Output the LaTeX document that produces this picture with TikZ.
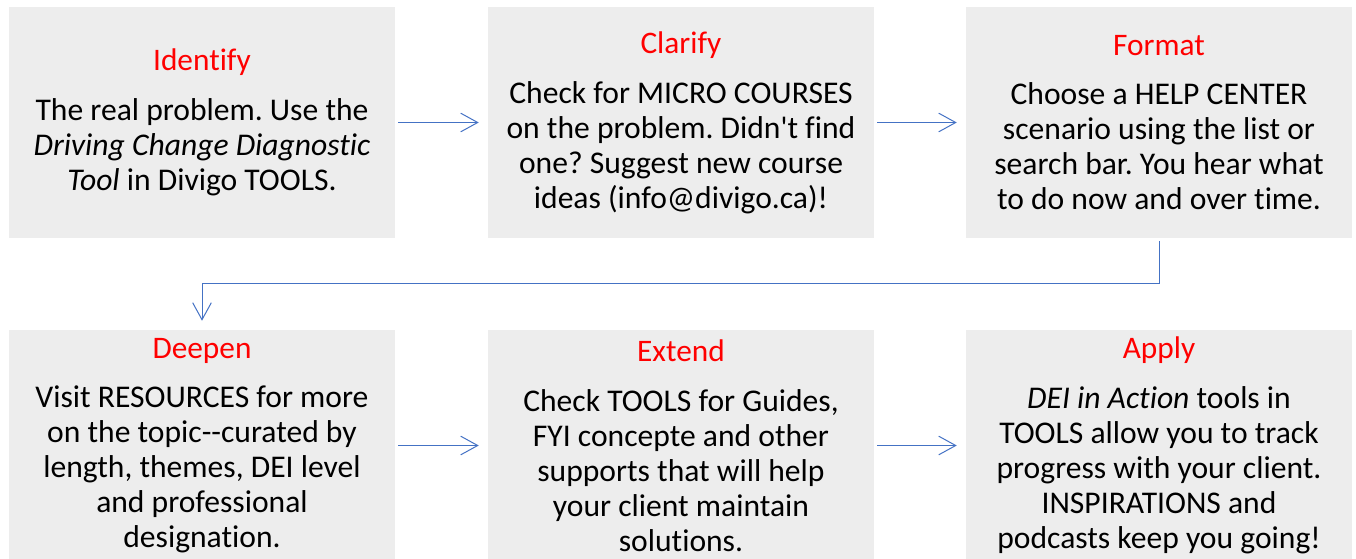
\documentclass[tikz,border=0pt]{standalone}
\usepackage{fontspec}
\newfontfamily\calibri{Carlito}[Ligatures=NoCommon]
\usetikzlibrary{arrows.meta}
\definecolor{boxgray}{RGB}{237,237,237}
\definecolor{arrowblue}{RGB}{68,114,196}
\definecolor{stagered}{RGB}{255,0,0}
\frenchspacing
% title in red, then the body text
\newcommand{\stage}[2]{{\fontsize{23.5}{26}\selectfont\color{stagered}#1}\\[11pt]#2}

\begin{document}
\begin{tikzpicture}[x=.75pt,y=-.75pt,
	stagebox/.style={fill=boxgray, minimum width=289.5pt, minimum height=173.25pt, inner sep=0pt,
		align=center, font=\calibri\fontsize{23.7}{26.25}\selectfont},
	flow/.style={draw=arrowblue, line width=.75pt, -{Straight Barb[length=12.75pt,width=14pt]},
		shorten <=2.25pt, shorten >=6.75pt}]
	\useasboundingbox (0,0) rectangle (1356,558);
	
	\node[stagebox] (identify) at (202,122.5) {\stage{Identify}{The real problem. Use the\\ \textit{Driving Change Diagnostic}\\ \textit{Tool} in Divigo TOOLS.}};
	\node[stagebox] (clarify) at (681,122.5) {\stage{Clarify}{Check for MICRO COURSES\\ on the problem. Didn't find\\ one? Suggest new course\\ ideas (info@divigo.ca)!}};
	\node[stagebox] (format) at (1159,122.5) {\stage{Format}{Choose a HELP CENTER\\ scenario using the list or\\ search bar. You hear what\\ to do now and over time.}};
	
	\node[stagebox] (deepen) at (202,445.5) {\stage{Deepen}{Visit RESOURCES for more\\ on the topic-{}-curated by\\ length, themes, DEI level\\ and professional\\ designation.}};
	\node[stagebox] (extend) at (681,445.5) {\stage{Extend}{Check TOOLS for Guides,\\ FYI concepte and other\\ supports that will help\\ your client maintain\\ solutions.}};
	\node[stagebox] (apply) at (1159,445.5) {\stage{Apply}{\textit{DEI in Action} tools in\\ TOOLS allow you to track\\ progress with your client.\\ INSPIRATIONS and\\ podcasts keep you going!}};
	
	\draw[flow] (identify.east) -- (clarify.west);
	\draw[flow] (clarify.east) -- (format.west);
	\draw[flow] (format.south) -- ++(0,45) -| (deepen.north);
	\draw[flow] (deepen.east) -- (extend.west);
	\draw[flow] (extend.east) -- (apply.west);
\end{tikzpicture}
\end{document}
